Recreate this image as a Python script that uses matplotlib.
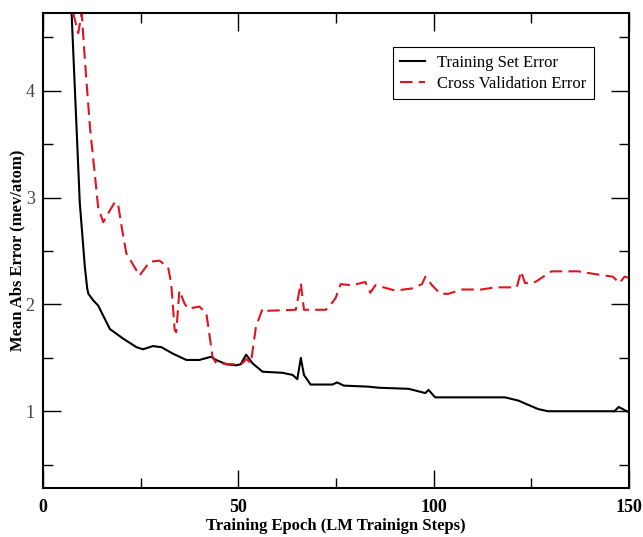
import matplotlib.pyplot as plt
from matplotlib.ticker import MultipleLocator

# training set error (black solid)
train_epoch = [7.3, 9.4, 10.7, 11.3, 11.6, 12.8, 14.1, 17.1, 20.5, 23.9, 25.6, 28.1, 30.3, 33.2,
               36.7, 40.0, 43.0, 44.3, 46.9, 49.4, 50.6, 52.0, 53.6, 56.2, 61.3, 63.9, 65.1, 66.0,
               66.8, 68.5, 74.1, 75.3, 77.0, 83.4, 86.0, 93.6, 97.9, 98.7, 100.4, 118.3, 121.7,
               124.2, 126.8, 129.3, 137.8, 146.3, 147.4, 150.0]
train_err = [4.73, 2.95, 2.35, 2.15, 2.10, 2.04, 1.99, 1.77, 1.68, 1.60, 1.58, 1.61, 1.60, 1.54,
             1.48, 1.48, 1.51, 1.48, 1.44, 1.43, 1.44, 1.53, 1.45, 1.37, 1.36, 1.34, 1.30, 1.50,
             1.34, 1.25, 1.25, 1.27, 1.24, 1.23, 1.22, 1.21, 1.17, 1.20, 1.13, 1.13, 1.10,
             1.06, 1.02, 1.00, 1.00, 1.00, 1.04, 0.99]

# cross validation error (red dashed)
cv_epoch = [7.7, 9.0, 9.9, 10.7, 12.0, 13.3, 14.1, 15.4, 17.1, 18.4, 19.2, 20.1, 21.3, 22.6, 24.7,
            27.3, 29.8, 32.0, 32.8, 33.7, 34.1, 34.9, 36.2, 37.1, 40.0, 41.8, 43.4, 44.3, 48.5,
            51.1, 52.0, 53.2, 54.5, 56.2, 57.0, 64.7, 66.0, 66.8, 72.4, 74.1, 74.9, 76.2, 79.1,
            82.5, 83.8, 85.1, 90.2, 94.5, 97.0, 97.9, 99.6, 101.7, 103.8, 107.2, 112.3, 115.7,
            121.3, 122.4, 123.4, 126.0, 130.2, 137.0, 142.1, 145.9, 147.6, 148.9, 150.0]
cv_err = [4.73, 4.54, 4.73, 4.29, 3.66, 3.20, 2.91, 2.77, 2.88, 2.96, 2.94, 2.73, 2.48, 2.40, 2.27,
          2.40, 2.41, 2.35, 2.20, 1.76, 1.74, 2.13, 2.01, 1.96, 1.98, 1.92, 1.51, 1.45, 1.44,
          1.45, 1.49, 1.45, 1.79, 1.96, 1.94, 1.95, 2.20, 1.95, 1.95, 2.02, 2.06, 2.19, 2.18,
          2.21, 2.11, 2.18, 2.13, 2.15, 2.19, 2.26, 2.18, 2.10, 2.10, 2.14, 2.14, 2.16,
          2.16, 2.31, 2.20, 2.21, 2.31, 2.31, 2.28, 2.26, 2.20, 2.26, 2.25]


def main():
    plt.rcParams['font.family'] = 'Liberation Serif'
    fig = plt.figure(figsize=(6.43, 5.37), dpi=100)
    ax = fig.add_axes([0.067, 0.091, 0.911, 0.885])

    ax.plot(train_epoch, train_err, color='black', lw=1.5, label='Training Set Error')
    ax.plot(cv_epoch, cv_err, color='#e0141e', lw=1.5, dashes=(6, 3), label='Cross Validation Error')

    ax.set_xlim(0, 150)
    ax.set_ylim(0.28, 4.73)
    ax.xaxis.set_major_locator(MultipleLocator(50))
    ax.xaxis.set_minor_locator(MultipleLocator(25))
    ax.yaxis.set_major_locator(MultipleLocator(1))
    ax.yaxis.set_minor_locator(MultipleLocator(0.5))
    ax.tick_params(which='both', direction='in', top=True, right=True, width=1)
    ax.tick_params(which='major', length=13)
    ax.tick_params(which='minor', length=7)
    ax.tick_params(axis='y', labelsize=13, labelcolor='#444444', pad=6)
    ax.tick_params(axis='x', labelsize=13, pad=8)
    for lbl in ax.get_xticklabels():
        lbl.set_fontweight('bold')
    for sp in ax.spines.values():
        sp.set_linewidth(1.5)

    ax.set_xlabel('Training Epoch (LM Trainign Steps)', fontsize=12, fontweight='bold', labelpad=1)
    ax.set_ylabel('Mean Abs Error (mev/atom)', fontsize=12, fontweight='bold', labelpad=0)

    leg = ax.legend(loc='upper right', bbox_to_anchor=(0.954, 0.945), fontsize=12, fancybox=False,
                    framealpha=1, edgecolor='black', handlelength=1.5, handletextpad=0.7,
                    borderpad=0.45, labelspacing=0.3)
    leg.get_frame().set_linewidth(0.8)

    fig.savefig('out.png', dpi=100)


if __name__ == '__main__':
    main()
